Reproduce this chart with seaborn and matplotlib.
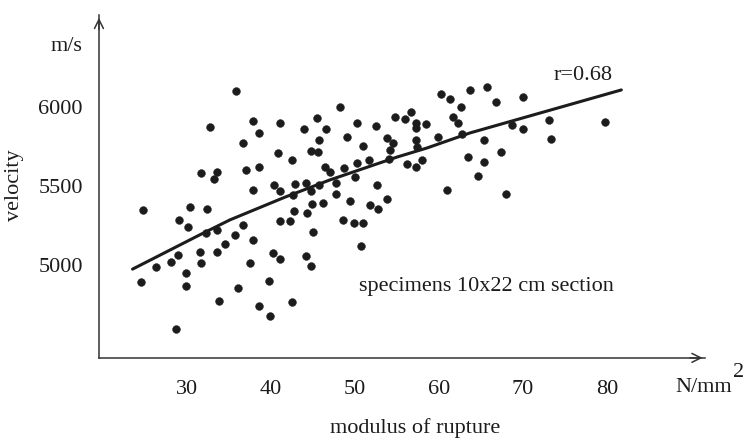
import matplotlib
matplotlib.use('Agg')
import matplotlib.pyplot as plt
import numpy as np
import pandas as pd
import seaborn as sns

# Data (modulus of rupture in N/mm2, velocity in m/s)
mor = [35.8, 32.7, 37.8, 38.6, 36.6, 40.8, 31.7, 33.5, 33.2, 37.0,
       38.5, 37.9, 40.4, 41.1, 24.8, 30.4, 32.4, 41.0, 42.5, 43.9,
       45.5, 46.5, 48.2, 50.2, 45.7, 44.8, 45.6, 49.0, 51.0, 42.9,
       44.2, 44.8, 45.7, 42.6, 46.4, 47.0, 47.7, 48.7, 50.2, 50.0,
       51.7, 47.7, 44.9, 46.2, 49.4, 51.8, 52.5, 54.8, 56.0, 56.7,
       57.2, 57.3, 58.5, 60.2, 61.3, 53.8, 54.5, 54.1, 57.3, 57.4,
       59.9, 54.0, 56.2, 57.2, 58.0, 52.6, 53.8, 52.7, 61.0, 63.7,
       65.7, 66.8, 70.0, 62.6, 61.7, 62.3, 62.7, 68.7, 70.0, 73.1,
       73.3, 79.8, 65.3, 67.4, 63.4, 65.4, 64.6, 68.0, 42.7, 44.3,
       41.1, 42.3, 48.5, 49.9, 51.0, 45.0, 50.7, 40.2, 41.1, 44.2,
       44.8, 39.7, 42.5, 39.9, 29.0, 30.1, 32.2, 33.5, 36.7, 35.7,
       34.5, 37.8, 26.3, 28.1, 28.9, 31.5, 33.5, 31.7, 37.5, 24.5,
       29.9, 29.9, 36.0, 33.8, 38.5, 28.7]
velocity = [6100, 5875, 5913, 5834, 5770, 5706, 5580, 5591, 5544, 5601,
            5620, 5475, 5503, 5470, 5345, 5367, 5354, 5899, 5663, 5858,
            5928, 5863, 6002, 5901, 5791, 5720, 5717, 5807, 5756, 5513,
            5521, 5470, 5508, 5443, 5617, 5591, 5517, 5614, 5644, 5557,
            5666, 5451, 5386, 5392, 5402, 5380, 5880, 5935, 5927, 5968,
            5899, 5865, 5894, 6082, 6049, 5801, 5770, 5728, 5791, 5749,
            5810, 5669, 5639, 5620, 5666, 5503, 5415, 5354, 5477, 6108,
            6127, 6034, 6065, 6000, 5939, 5901, 5831, 5886, 5859, 5918,
            5796, 5905, 5791, 5717, 5685, 5653, 5565, 5447, 5344, 5327,
            5278, 5275, 5285, 5264, 5264, 5208, 5119, 5077, 5036, 5056,
            4994, 4896, 4763, 4677, 5285, 5242, 5199, 5222, 5252, 5191,
            5130, 5155, 4989, 5020, 5065, 5082, 5081, 5010, 5010, 4892,
            4946, 4864, 4856, 4769, 4737, 4595]

# fitted curve as drawn in the figure
fit_x = [23.5, 31.5, 35.1, 41.7, 47.0, 55.0, 58.6, 63.7, 81.7]
fit_y = [4973, 5190, 5285, 5430, 5538, 5683, 5741, 5836, 6108]

x_ticks = [30, 40, 50, 60, 70, 80]
y_ticks = [5000, 5500, 6000]

df = pd.DataFrame({'mor': mor, 'velocity': velocity})
fit = pd.DataFrame({'mor': fit_x, 'velocity': fit_y})

sns.set_style('white')
plt.rcParams['font.family'] = ['Liberation Serif', 'DejaVu Serif']

ink = '#1c1c1c'
fs = 16
fig = plt.figure(figsize=(7.44, 4.44), dpi=100)
ax = fig.add_axes([0.133, 0.194, 0.815, 0.772])

sns.scatterplot(data=df, x='mor', y='velocity', ax=ax, s=32,
                color=ink, edgecolor=ink, linewidth=0.3)
sns.lineplot(data=fit, x='mor', y='velocity', ax=ax, color=ink,
             linewidth=2.2, sort=True)

ax.set_xlim(19.5, 91.7)
ax.set_ylim(4411, 6582)
ax.set_xticks(x_ticks)
ax.set_yticks(y_ticks)
ax.set_xticklabels([str(t) for t in x_ticks])
ax.set_yticklabels([str(t) for t in y_ticks])
ax.set_xlabel('')
ax.set_ylabel('')

for side in ['top', 'right']:
    ax.spines[side].set_visible(False)
for side in ['left', 'bottom']:
    ax.spines[side].set_color('#333333')
    ax.spines[side].set_linewidth(1.1)
ax.tick_params(axis='both', direction='inout', length=7, width=1.0,
               color='#333333', labelsize=fs, labelcolor=ink)
ax.tick_params(axis='x', pad=12.5)
ax.tick_params(axis='y', pad=8)

# open arrowheads at the axis ends
ax.annotate('', xy=(1.0, 0), xytext=(0.97, 0), xycoords='axes fraction',
            arrowprops=dict(arrowstyle='->', color='#333333', lw=1.1,
                            mutation_scale=16))
ax.annotate('', xy=(0, 1.0), xytext=(0, 0.95), xycoords='axes fraction',
            arrowprops=dict(arrowstyle='->', color='#333333', lw=1.1,
                            mutation_scale=16))

fig.text(66 / 744, 1 - 46 / 444, 'm/s', fontsize=fs, color=ink,
         ha='center', va='center')
fig.text(14 / 744, 1 - 185 / 444, 'velocity', fontsize=fs, color=ink,
         ha='center', va='center', rotation=90)
fig.text(583 / 744, 1 - 76 / 444, 'r=0.68', fontsize=fs, color=ink,
         ha='center', va='center')
fig.text(486 / 744, 1 - 286 / 444, 'specimens 10x22 cm section',
         fontsize=fs, color=ink, ha='center', va='center')
fig.text(732 / 744, 1 - 387 / 444, 'N/mm', fontsize=fs, color=ink,
         ha='right', va='center')
fig.text(739 / 744, 1 - 372 / 444, '2', fontsize=fs, color=ink,
         ha='center', va='center')
fig.text(415 / 744, 1 - 428 / 444, 'modulus of rupture', fontsize=fs,
         color=ink, ha='center', va='center')

fig.savefig('out.png', dpi=100)
